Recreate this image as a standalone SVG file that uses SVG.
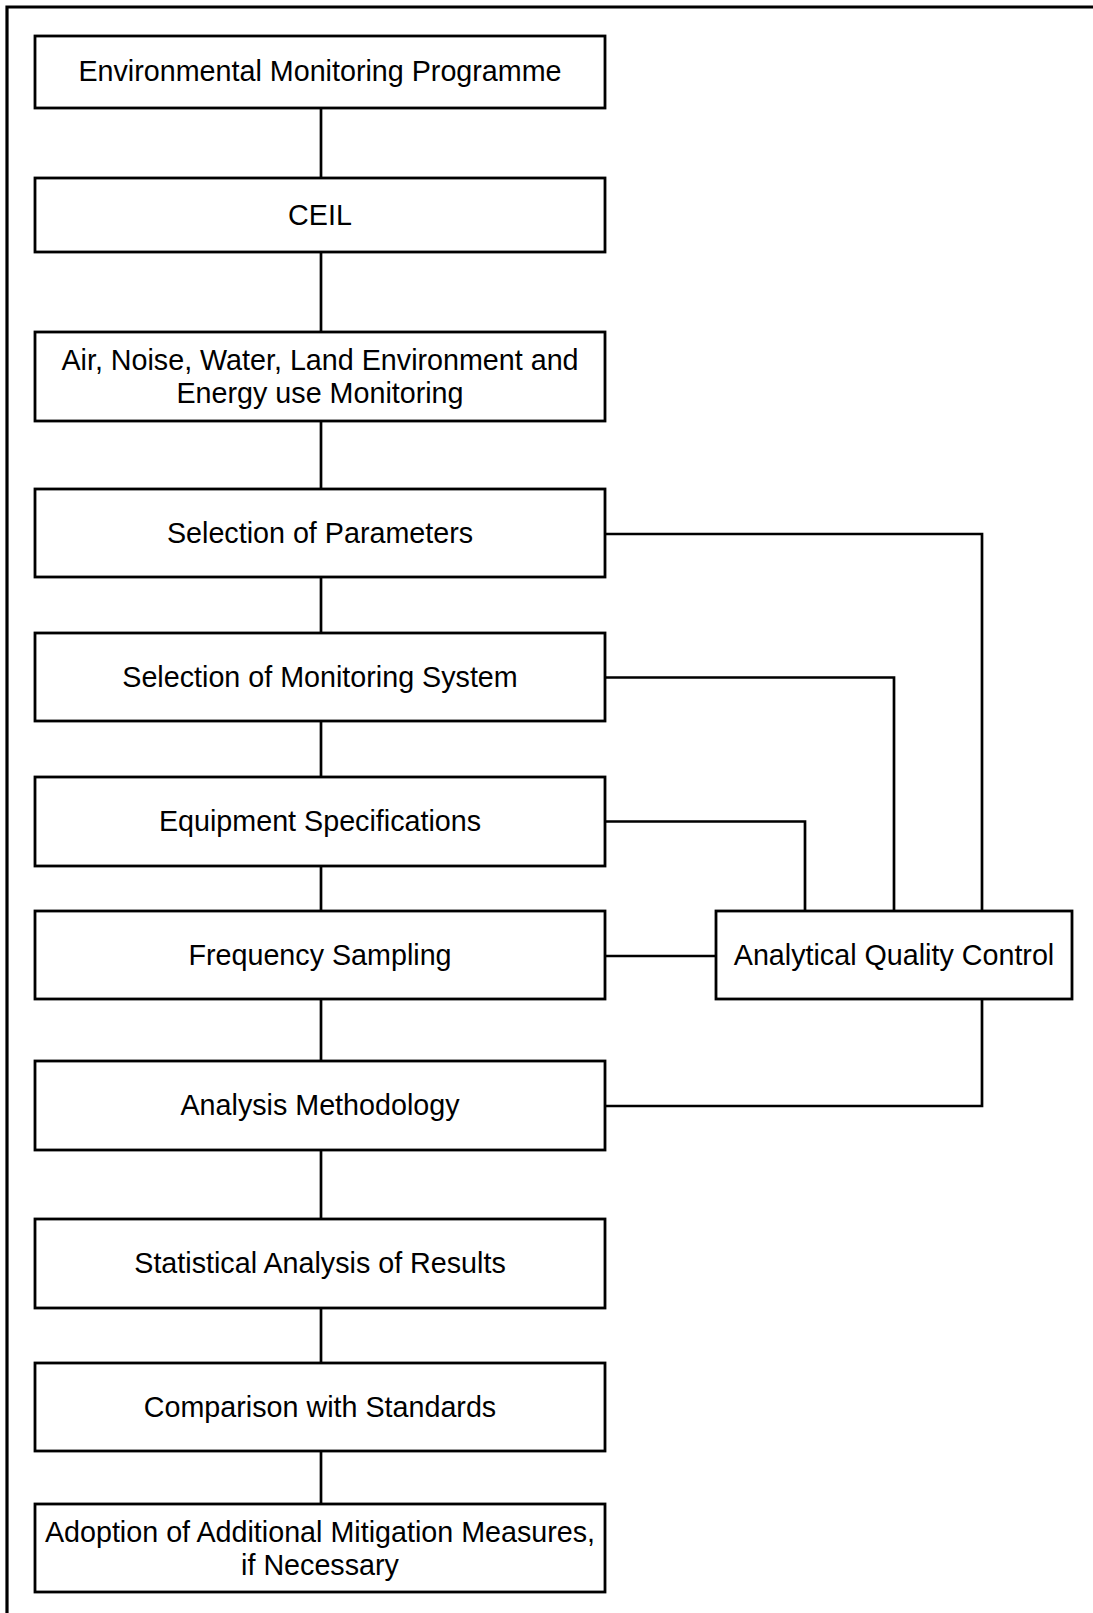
<svg xmlns="http://www.w3.org/2000/svg" width="1093" height="1613" viewBox="0 0 1093 1613">
<style>
.box{fill:#fff;stroke:#000;stroke-width:2.8}
.t{font-family:"Liberation Sans",Arial,sans-serif;font-size:28.7px;fill:#000;text-anchor:middle}
.c{fill:none;stroke:#000;stroke-width:2.7}
.frame{fill:none;stroke:#000;stroke-width:3.2}
</style>
<rect width="1093" height="1613" fill="#fff"/>
<path class="frame" d="M7,1613 V7 H1093"/>
<g id="connectors">
<path class="c" d="M321,108 V178 M321,252 V332 M321,421 V489 M321,577 V633 M321,721 V777 M321,866 V911 M321,999 V1061 M321,1150 V1219 M321,1308 V1363 M321,1451 V1504"/>
<path class="c" d="M605,534 H982 V911"/>
<path class="c" d="M605,677.5 H894 V911"/>
<path class="c" d="M605,821.5 H805 V911"/>
<path class="c" d="M605,956 H716"/>
<path class="c" d="M605,1106 H982 V999"/>
</g>
<g id="n1"><rect class="box" x="35" y="36" width="570" height="72"/><text class="t" x="320" y="81">Environmental Monitoring Programme</text></g>
<g id="n2"><rect class="box" x="35" y="178" width="570" height="74"/><text class="t" x="320" y="225">CEIL</text></g>
<g id="n3"><rect class="box" x="35" y="332" width="570" height="89"/><text class="t" x="320" y="370">Air, Noise, Water, Land Environment and</text><text class="t" x="320" y="403">Energy use Monitoring</text></g>
<g id="n4"><rect class="box" x="35" y="489" width="570" height="88"/><text class="t" x="320" y="543">Selection of Parameters</text></g>
<g id="n5"><rect class="box" x="35" y="633" width="570" height="88"/><text class="t" x="320" y="687">Selection of Monitoring System</text></g>
<g id="n6"><rect class="box" x="35" y="777" width="570" height="89"/><text class="t" x="320" y="831">Equipment Specifications</text></g>
<g id="n7"><rect class="box" x="35" y="911" width="570" height="88"/><text class="t" x="320" y="965">Frequency Sampling</text></g>
<g id="n8"><rect class="box" x="35" y="1061" width="570" height="89"/><text class="t" x="320" y="1115">Analysis Methodology</text></g>
<g id="n9"><rect class="box" x="35" y="1219" width="570" height="89"/><text class="t" x="320" y="1273">Statistical Analysis of Results</text></g>
<g id="n10"><rect class="box" x="35" y="1363" width="570" height="88"/><text class="t" x="320" y="1417">Comparison with Standards</text></g>
<g id="n11"><rect class="box" x="35" y="1504" width="570" height="88"/><text class="t" x="320" y="1542">Adoption of Additional Mitigation Measures,</text><text class="t" x="320" y="1575">if Necessary</text></g>
<g id="n12"><rect class="box" x="716" y="911" width="356" height="88"/><text class="t" x="894" y="965">Analytical Quality Control</text></g>
</svg>
